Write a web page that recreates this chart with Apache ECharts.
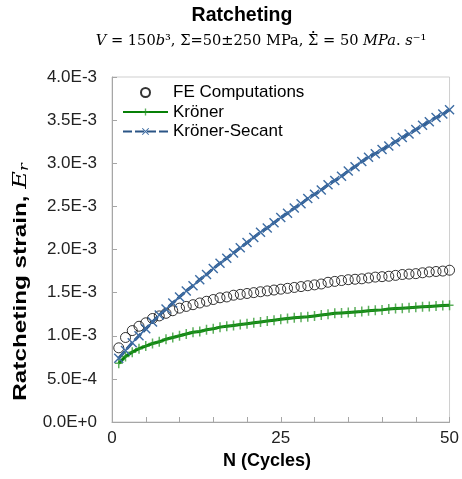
<!DOCTYPE html>
<html>
<head>
<meta charset="utf-8">
<script src="https://cdn.jsdelivr.net/npm/echarts@6/dist/echarts.min.js"></script>
<style>html,body{margin:0;padding:0;background:#fff}#c{width:462px;height:479px}</style>
</head>
<body>
<div id="c"></div>
<script>
var cycles = [1,2,3,4,5,6,7,8,9,10,11,12,13,14,15,16,17,18,19,20,21,22,23,24,25,26,27,28,29,30,31,32,33,34,35,36,37,38,39,40,41,42,43,44,45,46,47,48,49,50];
var feComputations = [0.86e-3,0.98e-3,1.06e-3,1.11e-3,1.15e-3,1.20e-3,1.23e-3,1.26e-3,1.29e-3,1.32e-3,1.34e-3,1.36e-3,1.38e-3,1.40e-3,1.42e-3,1.44e-3,1.45e-3,1.47e-3,1.48e-3,1.49e-3,1.50e-3,1.51e-3,1.52e-3,1.53e-3,1.54e-3,1.55e-3,1.56e-3,1.57e-3,1.58e-3,1.59e-3,1.60e-3,1.62e-3,1.63e-3,1.64e-3,1.65e-3,1.655e-3,1.66e-3,1.67e-3,1.68e-3,1.685e-3,1.69e-3,1.70e-3,1.71e-3,1.715e-3,1.72e-3,1.73e-3,1.74e-3,1.745e-3,1.75e-3,1.76e-3];
var kroner = [0.68e-3,0.76e-3,0.81e-3,0.85e-3,0.88e-3,0.91e-3,0.93e-3,0.96e-3,0.98e-3,1.00e-3,1.02e-3,1.04e-3,1.05e-3,1.07e-3,1.08e-3,1.10e-3,1.11e-3,1.12e-3,1.13e-3,1.14e-3,1.15e-3,1.16e-3,1.17e-3,1.18e-3,1.19e-3,1.20e-3,1.21e-3,1.215e-3,1.22e-3,1.23e-3,1.24e-3,1.25e-3,1.26e-3,1.265e-3,1.27e-3,1.275e-3,1.28e-3,1.29e-3,1.295e-3,1.30e-3,1.31e-3,1.315e-3,1.32e-3,1.325e-3,1.33e-3,1.335e-3,1.34e-3,1.345e-3,1.35e-3,1.355e-3];
var kronerSecant = [0.74e-3,0.83e-3,0.92e-3,1.00e-3,1.08e-3,1.16e-3,1.24e-3,1.31e-3,1.38e-3,1.45e-3,1.52e-3,1.58e-3,1.65e-3,1.71e-3,1.78e-3,1.84e-3,1.90e-3,1.96e-3,2.02e-3,2.08e-3,2.14e-3,2.20e-3,2.25e-3,2.31e-3,2.37e-3,2.42e-3,2.48e-3,2.53e-3,2.59e-3,2.64e-3,2.69e-3,2.75e-3,2.80e-3,2.85e-3,2.91e-3,2.96e-3,3.02e-3,3.07e-3,3.11e-3,3.16e-3,3.20e-3,3.25e-3,3.30e-3,3.34e-3,3.39e-3,3.44e-3,3.48e-3,3.53e-3,3.57e-3,3.62e-3];
var xTickLabels = [0, 25, 50];
var seriesNames = ['FE Computations', 'Kröner', 'Kröner-Secant'];

function pairs(ys) { return cycles.map(function (n, i) { return [n, ys[i]]; }); }

var plusPath = 'path://M3.25,0H4.75V4.25H8V5.75H4.75V10H3.25V5.75H0V4.25H3.25Z';
var crossPath = 'path://M0,1L1,0L5,4L9,0L10,1L6,5L10,9L9,10L5,6L1,10L0,9L4,5Z';

// subtitle pieces (style, text); index 4 is the dotted Sigma
var subFS = 14.6;
var subPieces = [['i','V'],['r',' = 150'],['i','b'],['r','³, Σ=50±250 MPa, '],['r','Σ'],['r',' = 50 '],['i','MPa'],['r','. '],['i','s'],['r','⁻¹']];
var fontOf = {i: 'italic ' + subFS + 'px "DejaVu Serif"', r: subFS + 'px "DejaVu Serif"'};
var mctx = document.createElement('canvas').getContext('2d');
function wOf(p) { mctx.font = fontOf[p[0]]; return mctx.measureText(p[1]).width; }
var subCenterX = 261, subY = 41;
var totalW = 0, dotX = 0;
subPieces.forEach(function (p, k) {
  var w = wOf(p);
  if (k === 4) dotX = totalW + w / 2;
  totalW += w;
});
dotX = subCenterX - totalW / 2 + dotX;
var subText = subPieces.map(function (p) { return '{' + p[0] + '|' + p[1] + '}'; }).join('');

var chart = echarts.init(document.getElementById('c'), null, {renderer: 'canvas'});
var option = {
  animation: false,
  grid: {left: 112, right: 10, top: 77, bottom: 57, show: true, borderColor: '#cfcfcf', borderWidth: 1},
  legend: {
    orient: 'vertical', left: 122, top: 84, padding: 0, itemGap: 2.5,
    itemWidth: 45, itemHeight: 9,
    textStyle: {fontFamily: 'Liberation Sans, Arial', fontSize: 17, color: '#000'},
    data: seriesNames
  },
  xAxis: {
    type: 'value', min: 0, max: 50, interval: 5,
    axisLine: {lineStyle: {color: '#a6a6a6', width: 1}},
    axisTick: {inside: true, length: 5, lineStyle: {color: '#a6a6a6'}},
    splitLine: {show: false},
    axisLabel: {
      margin: 8, fontFamily: 'Liberation Sans, Arial', fontSize: 17, color: '#222',
      formatter: function (v) { return xTickLabels.indexOf(v) >= 0 ? String(v) : ''; }
    }
  },
  yAxis: {
    type: 'value', min: 0, max: 4e-3, interval: 5e-4,
    axisLine: {show: true, lineStyle: {color: '#a6a6a6', width: 1}},
    axisTick: {show: true, inside: true, length: 5, lineStyle: {color: '#a6a6a6'}},
    splitLine: {show: false},
    axisLabel: {
      margin: 15, fontFamily: 'Liberation Sans, Arial', fontSize: 17, color: '#222',
      formatter: function (v) { return Number(v).toExponential(1).toUpperCase(); }
    }
  },
  graphic: [
    {type: 'text', x: 242, y: 16, style: {text: 'Ratcheting', fontFamily: 'Liberation Sans, Arial', fontWeight: 'bold', fontSize: 19.5, fill: '#000', textAlign: 'center', textVerticalAlign: 'middle'}},
    {type: 'text', x: subCenterX, y: subY, style: {
      text: subText,
      textAlign: 'center', textVerticalAlign: 'middle', fill: '#000',
      rich: {
        i: {fontFamily: 'DejaVu Serif', fontStyle: 'italic', fontSize: subFS, fill: '#000'},
        r: {fontFamily: 'DejaVu Serif', fontSize: subFS, fill: '#000'}
      }}},
    {type: 'circle', shape: {cx: dotX, cy: subY - 9, r: 1.1}, style: {fill: '#000'}},
    {type: 'text', x: 267, y: 461, style: {text: 'N (Cycles)', fontFamily: 'Liberation Sans, Arial', fontWeight: 'bold', fontSize: 18, fill: '#000', textAlign: 'center', textVerticalAlign: 'middle'}},
    {type: 'text', x: 21, y: 282, rotation: Math.PI / 2, scaleX: 1.35, style: {
      text: '{b|Ratcheting strain, }{e|E}{s|r}',
      textAlign: 'center', textVerticalAlign: 'middle', fill: '#000',
      rich: {
        b: {fontFamily: 'Liberation Sans, Arial', fontWeight: 'bold', fontSize: 18, fill: '#000'},
        e: {fontFamily: 'DejaVu Serif', fontStyle: 'italic', fontSize: 18, fill: '#000'},
        s: {fontFamily: 'DejaVu Serif', fontStyle: 'italic', fontSize: 12, fill: '#000', padding: [8, 0, 0, 0]}
      }}}
  ],
  series: [
    {
      name: seriesNames[0], type: 'scatter', data: pairs(feComputations),
      symbol: 'circle', symbolSize: 10,
      itemStyle: {color: 'rgba(255,255,255,0)', borderColor: '#000', borderWidth: 1}
    },
    {
      name: seriesNames[1], type: 'line', data: pairs(kroner),
      symbol: plusPath, symbolSize: [8, 10], showAllSymbol: true,
      lineStyle: {color: '#078007', width: 3},
      itemStyle: {color: 'rgba(40,150,40,0.75)'}
    },
    {
      name: seriesNames[2], type: 'line', data: pairs(kronerSecant),
      symbol: crossPath, symbolSize: 10, showAllSymbol: true,
      lineStyle: {color: '#2b5586', width: 3, type: [9, 3]},
      itemStyle: {color: '#3d6ca3'}
    }
  ]
};
chart.setOption(option);
</script>
</body>
</html>
